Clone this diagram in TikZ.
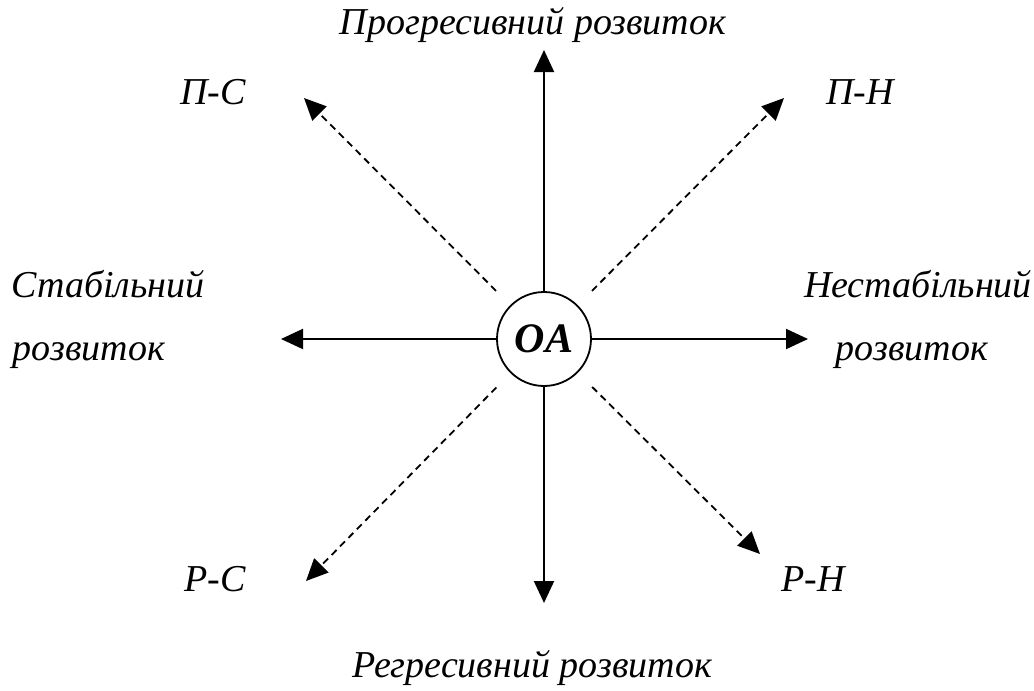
\documentclass[tikz,border=0pt]{standalone}
\usepackage{fontspec}
\setmainfont{Liberation Serif}
\usetikzlibrary{arrows.meta}
\begin{document}
\begin{tikzpicture}[x=1pt,y=-1pt,
  lbl/.style={font=\fontsize{38}{44}\selectfont\itshape, inner sep=0pt, align=center},
  solidarrow/.style={line width=2pt, -{Triangle[length=22pt,width=20pt]}},
  dasharrow/.style={line width=1.8pt, dash pattern=on 7pt off 5pt, shorten <=20pt, -{Triangle[length=22pt,width=20pt]}}]
\useasboundingbox (0,0) rectangle (1034,691);
\node[circle, draw, line width=1.8pt, minimum size=94pt, inner sep=0pt,
  font=\fontsize{42}{46}\selectfont\bfseries\itshape] (c) at (544,339) {OA};
\coordinate (up) at (544,50);
\coordinate (dn) at (544,603);
\coordinate (lf) at (281,339);
\coordinate (rt) at (808,339);
\coordinate (ul) at (304,98);
\coordinate (ur) at (784,98);
\coordinate (ll) at (306,581);
\coordinate (lr) at (760,554);
\draw[solidarrow] (c) -- (up);
\draw[solidarrow] (c) -- (dn);
\draw[solidarrow] (c) -- (lf);
\draw[solidarrow] (c) -- (rt);
\draw[dasharrow] (c) -- (ul);
\draw[dasharrow] (c) -- (ur);
\draw[dasharrow] (c) -- (ll);
\draw[dasharrow] (c) -- (lr);
\node[lbl] (tp) at (533,25) {Прогресивний розвиток};
\node[lbl] (bt) at (532,668) {Регресивний розвиток};
\node[lbl] (ps) at (213,92) {П-С};
\node[lbl] (pn) at (860,92) {П-Н};
\node[lbl] (rs) at (215,579) {Р-С};
\node[lbl] (rn) at (813,579) {Р-Н};
\node[lbl] (st1) at (108,284) {Стабільний};
\node[lbl] (st2) at (89,356) {розвиток};
\node[lbl] (ns1) at (918,284) {Нестабільний};
\node[lbl] (ns2) at (912,356) {розвиток};
\end{tikzpicture}
\end{document}
